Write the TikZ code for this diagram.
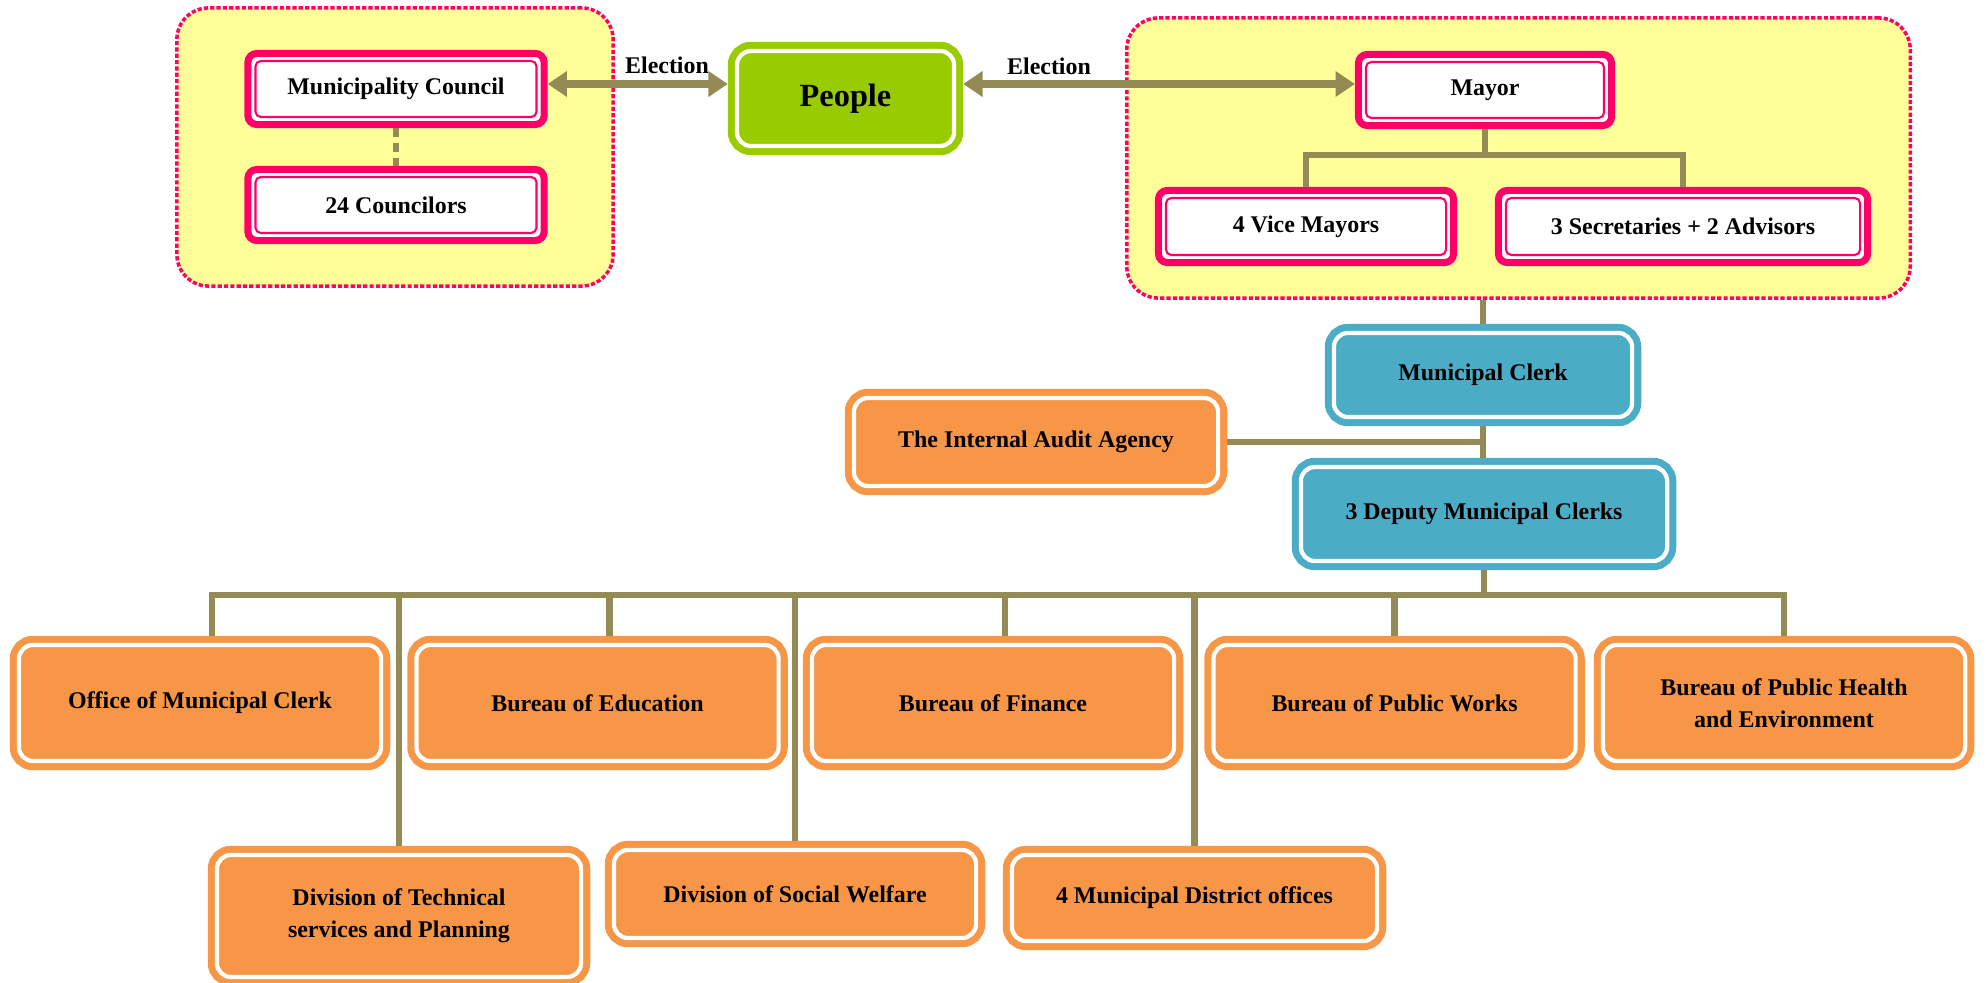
\documentclass[tikz,border=0pt]{standalone}
\usepackage{fontspec}
\setmainfont{Liberation Serif}
\usetikzlibrary{arrows.meta}
\definecolor{pinkline}{RGB}{255,0,102}
\definecolor{groupyellow}{RGB}{255,255,153}
\definecolor{peoplegreen}{RGB}{153,204,0}
\definecolor{clerkblue}{RGB}{75,172,198}
\definecolor{unitorange}{RGB}{247,150,70}
\definecolor{linkolive}{RGB}{148,138,84}
\newcommand{\boxfont}{\fontsize{6.8}{9}\selectfont\bfseries}
\tikzset{
  groupbox/.style={
    rectangle, rounded corners=9pt,
    draw=pinkline, fill=groupyellow, line width=1pt,
    dash pattern=on 1.2pt off 0.6pt
  },
  electnode/.style={
    rectangle, rounded corners=2.5pt,
    draw=pinkline, fill=white, line width=2pt,
    font=\boxfont, align=center,
    path picture={\draw[pinkline, line width=0.6pt, rounded corners=1.5pt]
      ([shift={(2.15pt,2.15pt)}]path picture bounding box.south west) rectangle
      ([shift={(-2.15pt,-2.15pt)}]path picture bounding box.north east);}
  },
  ringbox/.style={
    rectangle, rounded corners=4pt,
    line width=2pt, double=white, double distance=1.2pt,
    outer sep=2.6pt, font=\boxfont, align=center
  },
  peoplenode/.style={ringbox, draw=peoplegreen, fill=peoplegreen,
    font=\fontsize{9.2}{11}\selectfont\bfseries},
  clerknode/.style={ringbox, draw=clerkblue, fill=clerkblue},
  unitnode/.style={ringbox, draw=unitorange, fill=unitorange},
  orgline/.style={draw=linkolive, line width=1.8pt},
  electarrow/.style={orgline, line width=2pt,
    {Triangle[width=7pt,length=5.5pt]}-{Triangle[width=7pt,length=5.5pt]}}
}

\begin{document}
\begin{tikzpicture}[x=0.01cm, y=-0.01cm]
  \useasboundingbox (0,0) rectangle (1986,982);

  %% --- elected bodies ---
  \node[groupbox, minimum width=4.36cm, minimum height=2.78cm] (leftgrp) at (395,147) {};
  \node[groupbox, minimum width=7.83cm, minimum height=2.80cm] (rightgrp) at (1518.5,158) {};

  \node[electnode, minimum width=2.96cm, minimum height=0.71cm] (council) at (396,89) {Municipality Council};
  \node[electnode, minimum width=2.96cm, minimum height=0.71cm] (councilors) at (396,205) {24 Councilors};

  \node[peoplenode, minimum width=2.17cm, minimum height=0.95cm] (people) at (845.5,98.5) {People};

  \node[electnode, minimum width=2.53cm, minimum height=0.71cm] (mayor) at (1485,90) {Mayor};
  \node[electnode, minimum width=2.95cm, minimum height=0.72cm] (vice) at (1306,226.5) {4 Vice Mayors};
  \node[electnode, minimum width=3.69cm, minimum height=0.72cm] (secr) at (1683,226.5) {3 Secretaries + 2 Advisors};

  \node[font=\boxfont] (electL) at (667,65) {Election};
  \node[font=\boxfont] (electR) at (1049,66) {Election};

  %% --- clerks ---
  \node[clerknode, minimum width=2.98cm, minimum height=0.84cm] (clerk) at (1483,375) {Municipal Clerk};
  \node[clerknode, minimum width=3.66cm, minimum height=0.94cm] (deputy) at (1484,514) {3 Deputy Municipal Clerks};
  \node[unitnode, minimum width=3.64cm, minimum height=0.88cm] (audit) at (1036,442) {The Internal Audit Agency};

  %% --- bureaus ---
  \node[unitnode, minimum width=3.62cm, minimum height=1.16cm] (office) at (200,703) {Office of Municipal Clerk};
  \node[unitnode, minimum width=3.62cm, minimum height=1.16cm] (edu) at (597.5,703) {Bureau of Education};
  \node[unitnode, minimum width=3.62cm, minimum height=1.16cm] (fin) at (993,703) {Bureau of Finance};
  \node[unitnode, minimum width=3.62cm, minimum height=1.16cm] (works) at (1394.5,703) {Bureau of Public Works};
  \node[unitnode, minimum width=3.62cm, minimum height=1.16cm] (health) at (1784,703) {Bureau of Public Health\\and Environment};

  \node[unitnode, minimum width=3.64cm, minimum height=1.22cm] (tech) at (399,916) {Division of Technical\\services and Planning};
  \node[unitnode, minimum width=3.62cm, minimum height=0.88cm] (social) at (795,894) {Division of Social Welfare};
  \node[unitnode, minimum width=3.65cm, minimum height=0.86cm] (district) at (1194.5,898) {4 Municipal District offices};

  %% --- connectors ---
  \draw[orgline, dash pattern=on 2.5pt off 1.8pt] (council) -- (councilors);

  \draw[orgline] (mayor.south) -- ++(0,26) coordinate (mayorfork);
  \draw[orgline] (vice.north) |- (mayorfork) -| (secr.north);

  \draw[orgline] (clerk.north |- rightgrp.south) -- (clerk.north);
  \draw[orgline] (clerk.south) -- (clerk.south |- deputy.north);
  \draw[orgline] (audit.east) -- (audit.east -| clerk.south);

  \coordinate (bus) at (0,595);
  \draw[orgline] (deputy.south) -- (deputy.south |- bus);
  \draw[orgline] ([xshift=0.12cm]office.north) |- (deputy.south |- bus) -| (health.north);
  \foreach \unit in {edu, fin}
    \draw[orgline] ([xshift=0.12cm]\unit.north |- bus) -- ([xshift=0.12cm]\unit.north);
  \foreach \unit in {works, tech, social, district}
    \draw[orgline] (\unit.north |- bus) -- (\unit.north);

  \coordinate (electrow) at (0,84);
  \draw[electarrow] (council.east |- electrow) -- (people.west |- electrow);
  \draw[electarrow] (people.east |- electrow) -- (mayor.west |- electrow);

\end{tikzpicture}
\end{document}
